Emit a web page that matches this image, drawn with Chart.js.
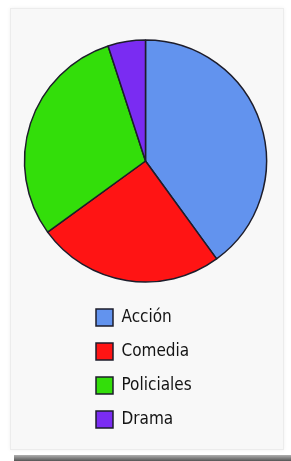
<!DOCTYPE html>
<html>
<head>
<meta charset="utf-8">
<script src="https://cdn.jsdelivr.net/npm/chart.js@4"></script>
<style>
  html, body { margin: 0; padding: 0; background: #ffffff; }
  body { width: 291px; height: 461px; position: relative; overflow: hidden; }
  #tarjeta {
    position: absolute; left: 10px; top: 8px; width: 272px; height: 440px;
    background: #f8f8f8; border: 1px solid #ececec;
    box-shadow: 0 0 4px rgba(0,0,0,0.06);
  }
  #sombra {
    position: absolute; left: 14px; top: 455px; width: 277px; height: 6px;
    background: linear-gradient(#b0b0b0, #555555);
  }
  #grafico { position: absolute; left: 0; top: 0; }
</style>
</head>
<body>
<div id="tarjeta"></div>
<div id="sombra"></div>
<canvas id="grafico" width="291" height="461"></canvas>
<script>
const generos = ["Acción", "Comedia", "Policiales", "Drama"];
const valores = [40, 25, 30, 5];
const colores = ["#6293ee", "#ff1414", "#33de0a", "#7a2cf2"];

let ctx = document.getElementById("grafico").getContext("2d");

new Chart(ctx, {
    type: "pie",
    data: {
        labels: generos,
        datasets: [{
            data: valores,
            backgroundColor: colores,
            borderColor: "#1d1d2b",
            borderWidth: 1.5,
            radius: 121,
            clip: false
        }]
    },
    options: {
        responsive: false,
        animation: false,
        // el padding lateral obliga a la leyenda a ir en una sola columna
        layout: { padding: { left: 79, right: 79, top: 30, bottom: 23 } },
        plugins: {
            tooltip: { enabled: false },
            legend: {
                position: "bottom",
                align: "start",
                labels: {
                    boxWidth: 17,
                    boxHeight: 17,
                    padding: 17,
                    color: "#141414",
                    font: { family: "'Liberation Sans Narrow', 'DejaVu Sans Condensed', sans-serif", size: 17 }
                }
            }
        }
    }
});
</script>
</body>
</html>
